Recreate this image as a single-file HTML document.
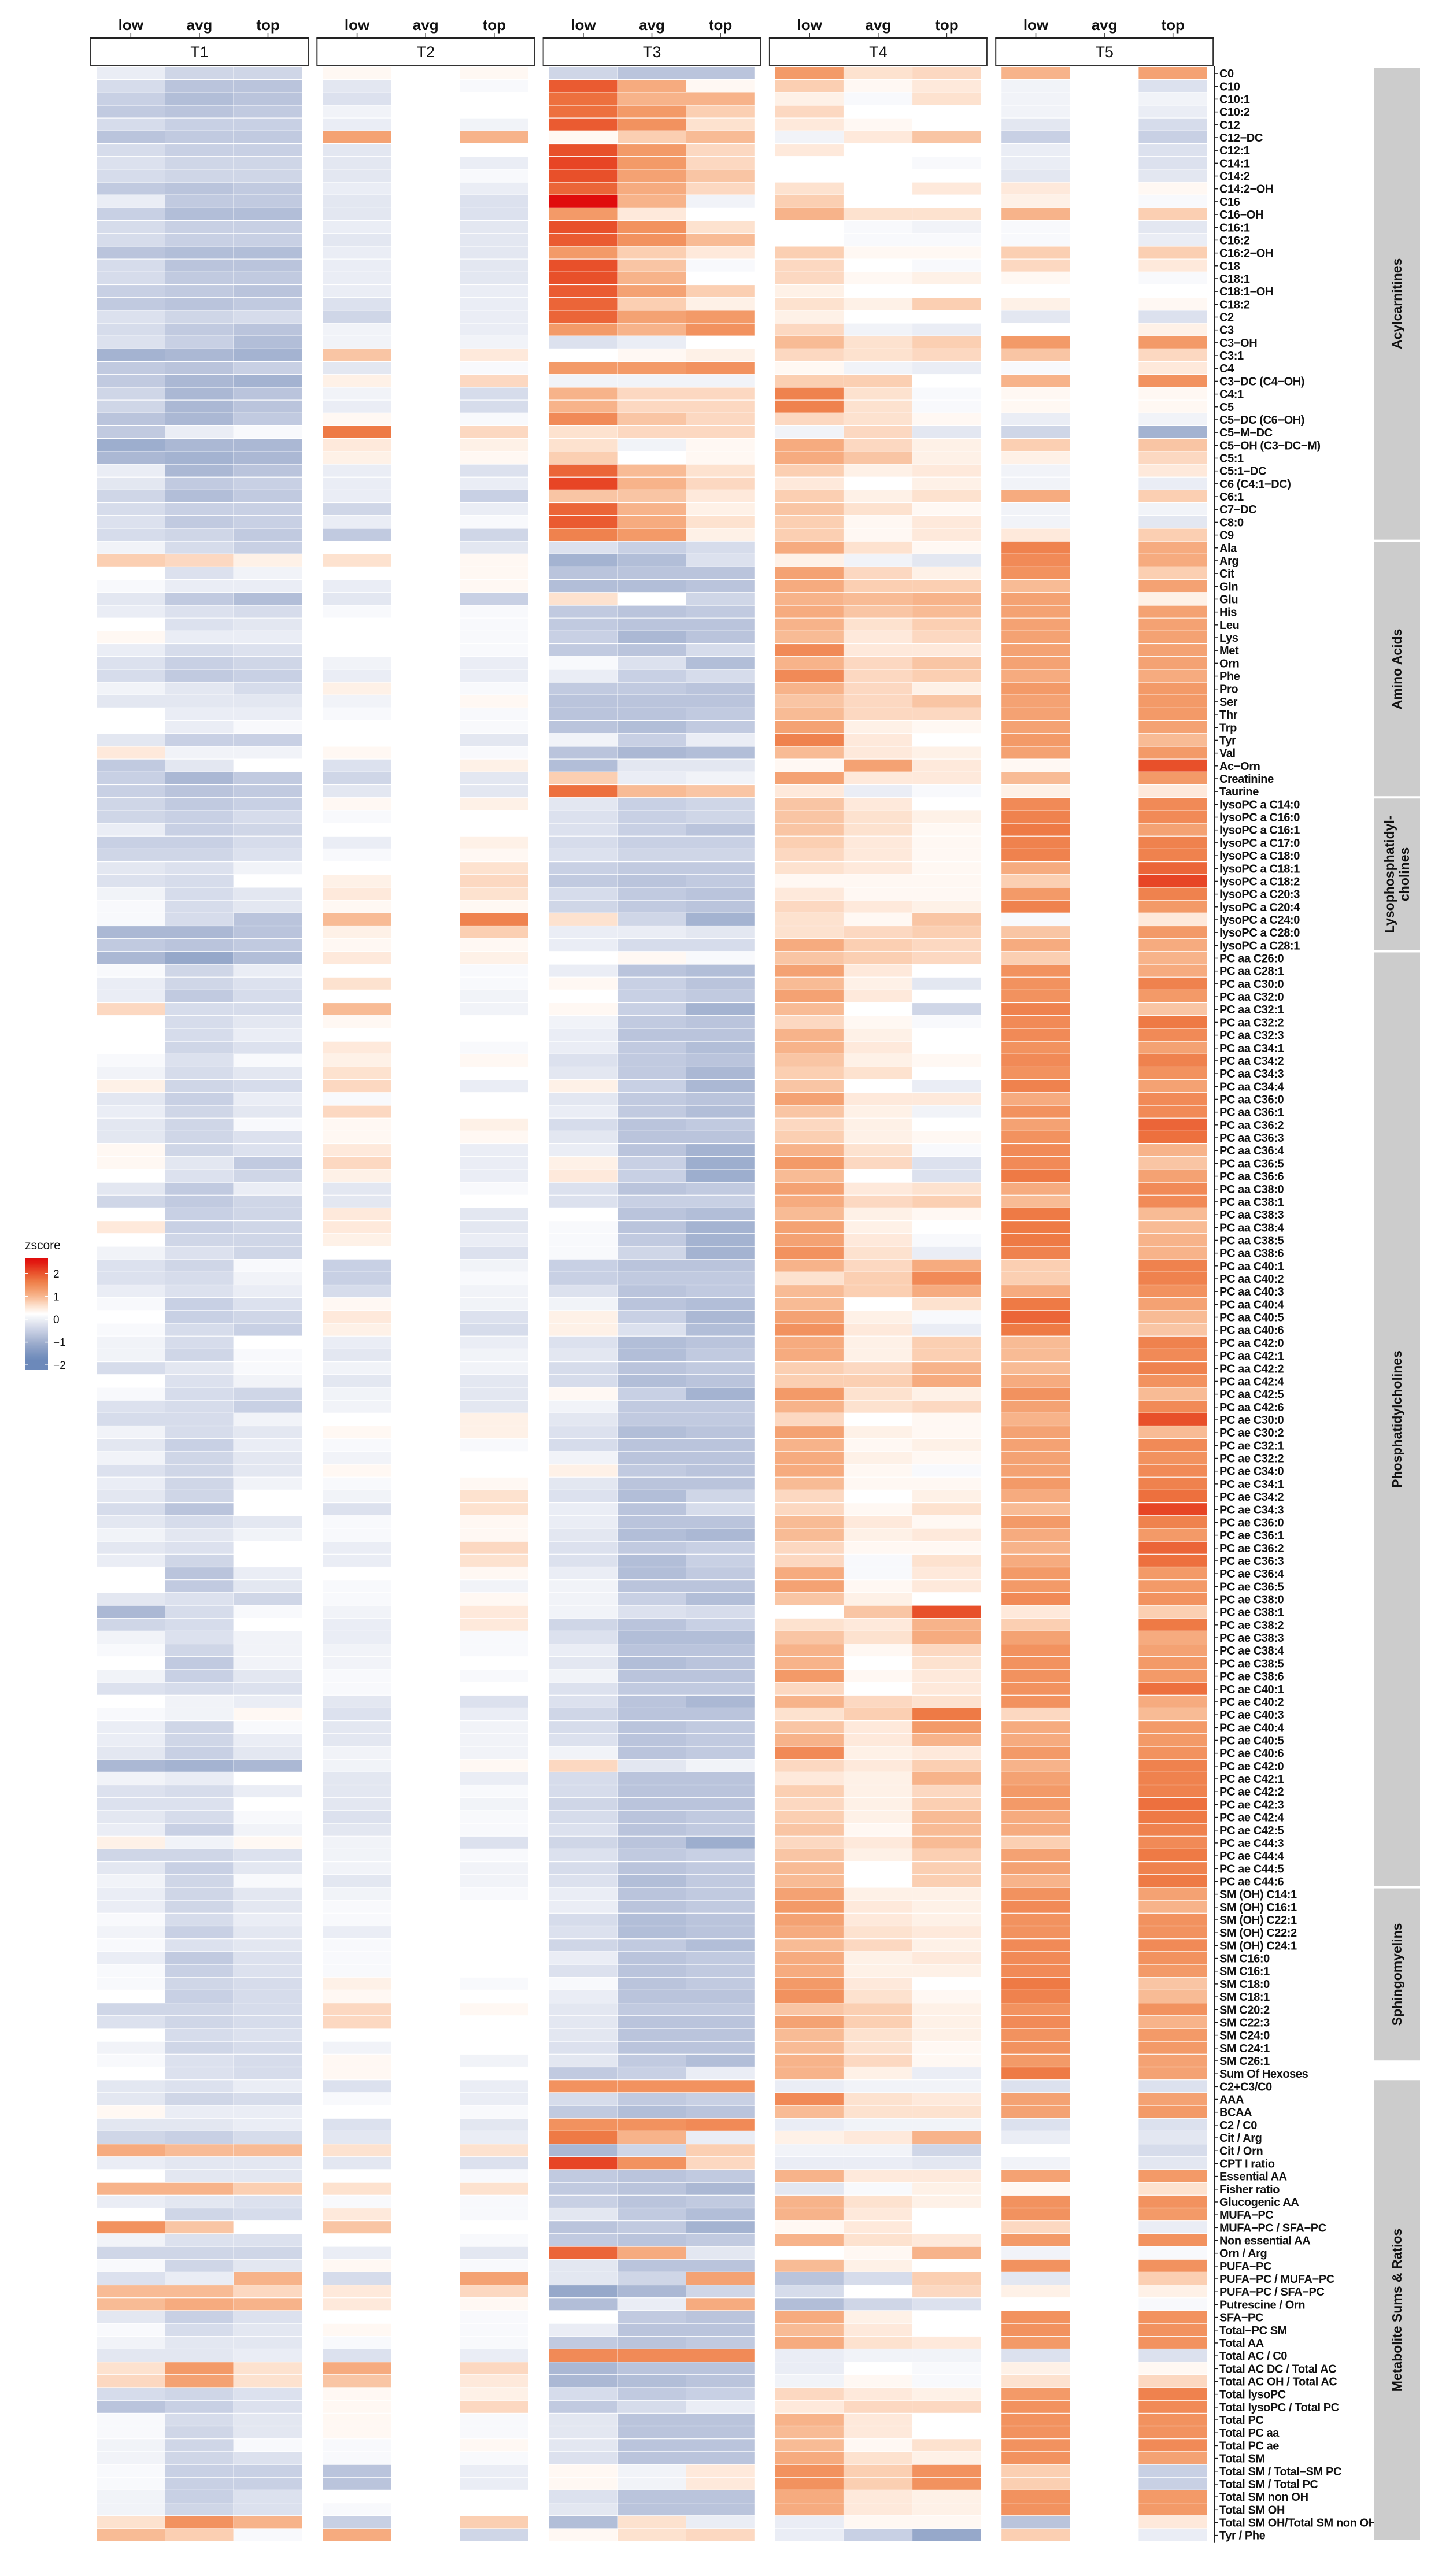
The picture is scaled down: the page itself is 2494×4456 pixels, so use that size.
<!DOCTYPE html>
<html><head><meta charset="utf-8"><title>Metabolite z-score heatmap</title>
<style>
html,body{margin:0;padding:0;background:#fff;}
svg{display:block;font-family:"Liberation Sans",Arial,sans-serif;}
</style></head>
<body>
<svg id="chart" width="2494" height="4456" viewBox="0 0 2494 4456" xmlns="http://www.w3.org/2000/svg"></svg>
<script>
const rowLabels = ["C0","C10","C10:1","C10:2","C12","C12−DC","C12:1","C14:1","C14:2","C14:2−OH","C16","C16−OH","C16:1","C16:2","C16:2−OH","C18","C18:1","C18:1−OH","C18:2","C2","C3","C3−OH","C3:1","C4","C3−DC (C4−OH)","C4:1","C5","C5−DC (C6−OH)","C5−M−DC","C5−OH (C3−DC−M)","C5:1","C5:1−DC","C6 (C4:1−DC)","C6:1","C7−DC","C8:0","C9",
"Ala","Arg","Cit","Gln","Glu","His","Leu","Lys","Met","Orn","Phe","Pro","Ser","Thr","Trp","Tyr","Val","Ac−Orn","Creatinine","Taurine",
"lysoPC a C14:0","lysoPC a C16:0","lysoPC a C16:1","lysoPC a C17:0","lysoPC a C18:0","lysoPC a C18:1","lysoPC a C18:2","lysoPC a C20:3","lysoPC a C20:4","lysoPC a C24:0","lysoPC a C28:0","lysoPC a C28:1",
"PC aa C26:0","PC aa C28:1","PC aa C30:0","PC aa C32:0","PC aa C32:1","PC aa C32:2","PC aa C32:3","PC aa C34:1","PC aa C34:2","PC aa C34:3","PC aa C34:4","PC aa C36:0","PC aa C36:1","PC aa C36:2","PC aa C36:3","PC aa C36:4","PC aa C36:5","PC aa C36:6","PC aa C38:0","PC aa C38:1","PC aa C38:3","PC aa C38:4","PC aa C38:5","PC aa C38:6","PC aa C40:1","PC aa C40:2","PC aa C40:3","PC aa C40:4","PC aa C40:5","PC aa C40:6","PC aa C42:0","PC aa C42:1","PC aa C42:2","PC aa C42:4","PC aa C42:5","PC aa C42:6",
"PC ae C30:0","PC ae C30:2","PC ae C32:1","PC ae C32:2","PC ae C34:0","PC ae C34:1","PC ae C34:2","PC ae C34:3","PC ae C36:0","PC ae C36:1","PC ae C36:2","PC ae C36:3","PC ae C36:4","PC ae C36:5","PC ae C38:0","PC ae C38:1","PC ae C38:2","PC ae C38:3","PC ae C38:4","PC ae C38:5","PC ae C38:6","PC ae C40:1","PC ae C40:2","PC ae C40:3","PC ae C40:4","PC ae C40:5","PC ae C40:6","PC ae C42:0","PC ae C42:1","PC ae C42:2","PC ae C42:3","PC ae C42:4","PC ae C42:5","PC ae C44:3","PC ae C44:4","PC ae C44:5","PC ae C44:6",
"SM (OH) C14:1","SM (OH) C16:1","SM (OH) C22:1","SM (OH) C22:2","SM (OH) C24:1","SM C16:0","SM C16:1","SM C18:0","SM C18:1","SM C20:2","SM C22:3","SM C24:0","SM C24:1","SM C26:1","Sum Of Hexoses",
"C2+C3/C0","AAA","BCAA","C2  / C0","Cit  / Arg","Cit  / Orn","CPT I ratio","Essential AA","Fisher ratio","Glucogenic AA","MUFA−PC","MUFA−PC  / SFA−PC","Non essential AA","Orn  / Arg","PUFA−PC","PUFA−PC  / MUFA−PC","PUFA−PC  / SFA−PC","Putrescine  / Orn","SFA−PC","Total−PC SM","Total AA","Total AC  / C0","Total AC DC  / Total AC","Total AC OH  / Total AC","Total lysoPC","Total lysoPC  / Total PC","Total PC","Total PC aa","Total PC ae","Total SM","Total SM  / Total−SM PC","Total SM  / Total PC","Total SM non OH","Total SM OH","Total SM OH/Total SM non OH","Tyr  / Phe"];

const panelNames = ["T1","T2","T3","T4","T5"];
const colNames = ["low","avg","top"];
const legendTicks = [2,1,0,-1,-2];

const t1Low = [-0.3,-0.6,-0.8,-0.9,-0.6,-1.0,-0.6,-0.5,-0.6,-0.9, -0.3,-0.8,-0.6,-0.6,-1.0,-0.6,-0.6,-0.8,-0.9,-0.5, -0.6,-0.5,-1.3,-0.9,-0.9,-0.7,-0.7,-1.0,-0.9,-1.4, -1.2,-0.3,-0.4,-0.7,-0.6,-0.5,-0.6,-0.2,0.6,0.0, -0.1,-0.4,-0.3,0.0,0.1,-0.3,-0.5,-0.6,-0.2,-0.4, 0.0,0.0,-0.4,0.3,-0.9,-0.8,-0.8,-0.7,-0.7,-0.3, -0.8,-0.7,-0.4,-0.5,-0.2,-0.1,-0.1,-1.2,-0.9,-1.2, -0.1,-0.3,-0.3,0.5,0.0,0.0,0.0,-0.1,-0.2,0.2, -0.4,-0.3,-0.4,-0.4,0.1,0.1,0.0,-0.4,-0.7,0.0, 0.3,0.0,-0.2,-0.5,-0.5,-0.3,-0.1,0.0,-0.1,-0.2, -0.2,-0.6,0.0,-0.1,-0.5,-0.6,-0.2,-0.4,-0.2,-0.5, -0.3,-0.4,-0.6,-0.4,-0.2,-0.4,-0.3,0.0,0.0,-0.4, -1.2,-0.7,-0.2,-0.1,0.0,-0.2,-0.5,0.0,-0.1,-0.3, -0.3,-0.4,-1.2,-0.2,-0.5,-0.5,-0.4,-0.3,0.2,-0.7, -0.4,-0.2,-0.3,-0.3,-0.1,-0.2,-0.1,-0.3,-0.1,-0.1, 0.0,-0.7,-0.5,0.0,-0.2,-0.1,0.0,-0.4,-0.4,0.1, -0.4,-0.7,1.0,-0.3,0.0,0.9,-0.3,0.0,1.3,-0.2, -0.7,-0.1,-0.5,0.8,0.8,-0.4,-0.1,-0.2,-0.4,0.4, 0.5,-0.6,-1.0,-0.1,-0.1,-0.2,-0.2,-0.1,-0.1,-0.2, -0.2,0.4,0.8];
const t1Avg = [-0.7,-1.0,-1.1,-1.0,-0.8,-0.9,-0.8,-0.7,-0.7,-1.0, -0.9,-1.1,-0.8,-0.8,-1.1,-1.0,-0.9,-0.9,-1.0,-0.7, -0.9,-0.8,-1.2,-1.0,-1.2,-1.2,-1.2,-1.2,-0.3,-1.2, -1.3,-1.2,-0.9,-1.1,-0.8,-0.9,-0.7,-0.6,0.5,-0.5, -0.3,-0.9,-0.5,-0.5,-0.3,-0.6,-0.8,-0.9,-0.4,-0.4, -0.3,-0.3,-0.8,-0.2,-0.4,-1.2,-1.0,-0.9,-0.8,-0.8, -0.8,-0.7,-0.5,-0.6,-0.6,-0.6,-0.6,-1.2,-1.0,-1.5, -0.7,-0.7,-0.9,-0.6,-0.6,-0.6,-0.7,-0.5,-0.6,-0.7, -0.8,-0.7,-0.7,-0.7,-0.7,-0.4,-0.5,-0.9,-0.9,-0.8, -0.8,-0.7,-0.5,-0.7,-0.6,-0.5,-0.8,-0.8,-0.6,-0.6, -0.7,-0.4,-0.5,-0.6,-0.6,-0.6,-0.6,-0.8,-0.7,-0.7, -0.7,-0.7,-1.0,-0.6,-0.4,-0.5,-0.7,-1.0,-0.9,-0.5, -0.6,-0.6,-0.5,-0.7,-0.9,-0.8,-0.6,-0.2,-0.2,-0.7, -0.7,-0.8,-1.3,-0.3,-0.6,-0.5,-0.6,-0.8,-0.2,-0.7, -0.8,-0.7,-0.7,-0.7,-0.6,-0.8,-0.5,-0.9,-0.8,-0.7, -0.8,-0.7,-0.7,-0.6,-0.7,-0.5,-0.5,-0.5,-0.7,-0.3, -0.4,-0.8,0.8,-0.4,-0.4,0.9,-0.4,-0.7,0.7,-0.5, -0.7,-0.7,-0.3,0.8,1.0,-0.8,-0.6,-0.4,-0.4,1.2, 1.1,-0.7,-0.8,-0.6,-0.7,-0.7,-0.7,-0.8,-0.8,-0.8, -0.7,1.3,0.6];
const t1Top = [-0.7,-1.0,-1.0,-0.9,-0.8,-0.9,-0.8,-0.7,-0.7,-0.9, -0.9,-1.1,-0.8,-0.8,-1.1,-1.0,-0.9,-1.0,-0.9,-0.6, -1.0,-1.1,-1.3,-0.8,-1.3,-1.0,-1.0,-0.9,-0.1,-1.2, -1.2,-1.0,-0.8,-0.9,-0.8,-0.8,-0.9,-0.8,0.2,-0.2, -0.3,-1.1,-0.6,-0.4,-0.3,-0.5,-0.7,-0.8,-0.6,-0.4, -0.3,-0.1,-0.8,-0.2,0.0,-0.9,-0.9,-0.8,-0.6,-0.7, -0.6,-0.5,-0.2,0.0,-0.4,-0.4,-1.0,-1.0,-0.9,-1.1, -0.3,-0.5,-0.6,-0.6,-0.4,-0.3,-0.5,-0.1,-0.4,-0.6, -0.3,-0.4,-0.1,-0.5,-0.5,-0.9,-0.7,-0.3,-0.7,-0.7, -0.7,-0.7,-0.7,-0.1,-0.2,-0.3,-0.5,-0.7,-0.8,0.0, -0.1,-0.1,-0.2,-0.7,-0.8,-0.2,-0.4,-0.3,-0.4,-0.4, -0.2,0.0,0.0,-0.4,-0.2,0.0,0.0,-0.3,-0.4,-0.7, -0.1,0.0,-0.2,-0.2,-0.2,-0.4,-0.5,-0.3,0.1,-0.1, -0.3,-0.4,-1.2,0.0,-0.3,0.0,-0.1,-0.2,0.1,-0.5, -0.4,-0.1,-0.4,-0.4,-0.3,-0.4,-0.4,-0.5,-0.5,-0.6, -0.6,-0.6,-0.6,-0.5,-0.6,-0.6,-0.6,-0.3,-0.6,-0.3, -0.3,-0.6,0.8,-0.4,-0.4,0.6,-0.5,-0.6,0.0,-0.5, -0.7,-0.4,0.9,0.5,0.9,-0.5,-0.4,-0.4,-0.3,0.4, 0.4,-0.5,-0.5,-0.4,-0.4,-0.1,-0.5,-0.8,-0.8,-0.5, -0.5,0.9,-0.1];
const t2Low = [0.1,-0.4,-0.5,-0.2,-0.3,1.1,-0.4,-0.4,-0.4,-0.3, -0.4,-0.4,-0.3,-0.4,-0.3,-0.3,-0.3,-0.3,-0.5,-0.7, -0.2,-0.2,0.7,-0.4,0.2,-0.2,-0.3,0.1,1.6,0.3, 0.2,-0.3,-0.3,-0.3,-0.7,-0.3,-0.9,0.0,0.4,0.0, -0.3,-0.4,-0.1,0.0,0.0,0.0,-0.2,-0.3,0.2,-0.2, -0.1,0.0,0.0,0.1,-0.5,-0.7,-0.4,0.1,-0.1,0.0, -0.3,-0.1,0.0,0.2,0.3,0.1,0.8,0.2,0.1,0.3, 0.0,0.4,0.0,0.8,0.1,0.0,0.3,0.2,0.4,0.5, -0.1,0.5,0.1,0.1,0.3,0.5,0.2,-0.4,-0.4,0.3, 0.3,0.2,0.0,-0.8,-0.8,-0.6,0.1,0.3,0.2,-0.3, -0.4,-0.2,-0.4,-0.2,-0.2,0.0,0.1,-0.1,-0.2,0.1, -0.1,-0.2,-0.5,-0.1,-0.1,-0.3,-0.3,0.0,-0.1,-0.1, -0.2,-0.3,-0.3,-0.2,-0.2,-0.1,-0.1,-0.4,-0.5,-0.4, -0.4,-0.2,-0.2,-0.4,-0.4,-0.4,-0.5,-0.4,-0.2,-0.2, -0.2,-0.4,-0.2,-0.1,-0.1,-0.3,-0.1,-0.1,-0.1,0.2, 0.1,0.5,0.5,0.0,-0.2,0.1,0.1,-0.5,-0.1,0.0, -0.5,-0.4,0.4,-0.4,0.0,0.4,-0.1,0.3,0.7,0.0, -0.3,0.1,-0.6,0.3,0.3,0.0,0.1,-0.1,-0.5,1.0, 0.7,0.1,0.1,0.1,0.1,-0.1,-0.1,-1.0,-1.0,0.0, -0.1,-0.8,1.0];
const t2Top = [0.1,-0.1,0.0,0.0,-0.2,0.9,0.0,-0.3,-0.1,-0.3, -0.5,-0.5,-0.4,-0.4,-0.4,-0.4,-0.4,-0.3,-0.3,-0.3, -0.3,-0.2,0.3,-0.1,0.5,-0.6,-0.6,-0.1,0.5,0.2, 0.1,-0.5,-0.3,-0.8,-0.3,-0.1,-0.7,-0.4,0.1,0.1, 0.1,-0.8,-0.1,-0.1,-0.1,-0.1,-0.3,-0.3,-0.1,0.1, -0.1,-0.1,-0.4,-0.1,0.2,-0.4,-0.4,0.2,0.0,0.0, 0.2,0.1,0.4,0.5,0.4,0.1,1.5,0.6,0.1,0.2, -0.1,-0.1,-0.2,-0.2,0.0,0.0,-0.1,0.1,0.0,-0.3, 0.0,0.0,0.2,0.1,-0.3,-0.3,-0.3,-0.1,0.0,-0.4, -0.4,-0.3,-0.5,-0.2,-0.1,-0.2,-0.2,-0.5,-0.6,-0.3, -0.2,-0.2,-0.4,-0.4,-0.4,0.2,0.2,-0.1,0.0,0.0, 0.1,0.4,0.4,0.1,0.1,0.5,0.4,0.1,-0.2,0.1, 0.3,0.3,-0.1,-0.1,0.0,-0.1,0.0,-0.5,-0.3,-0.2, -0.2,-0.2,0.1,-0.3,-0.1,-0.2,-0.1,-0.1,-0.5,-0.1, -0.2,-0.2,-0.1,0.0,0.0,0.0,0.0,0.0,0.0,-0.1, 0.0,0.1,0.0,0.0,0.0,-0.2,0.0,-0.3,-0.3,-0.1, -0.4,-0.3,0.4,-0.5,-0.1,0.4,-0.1,-0.1,0.0,-0.1, -0.4,-0.1,1.1,0.5,0.1,-0.1,-0.1,-0.1,-0.3,0.5, 0.3,0.2,0.5,-0.1,-0.1,0.1,-0.1,-0.3,-0.3,0.0, 0.0,0.6,-0.7];
const t3Low = [-0.7,1.9,1.7,1.7,1.9,0.1,2.0,2.1,2.0,1.8, 2.6,1.2,2.0,1.9,1.2,2.0,2.0,1.9,1.8,1.8, 1.2,-0.5,0.0,1.2,-0.2,0.9,0.9,1.4,0.4,0.4, 0.6,1.8,2.1,0.7,1.8,1.9,1.5,-0.5,-1.3,-1.0, -1.1,0.4,-0.9,-0.9,-0.8,-0.9,-0.1,-0.3,-0.9,-1.0, -1.0,-1.0,-0.2,-1.0,-1.1,0.6,1.7,-0.4,-0.5,-0.5, -0.6,-0.5,-0.8,-0.9,-0.6,-0.7,0.4,-0.3,-0.3,0.0, -0.3,0.1,0.0,0.1,-0.2,-0.3,-0.3,-0.5,-0.4,0.2, -0.4,-0.3,-0.6,-0.4,-0.3,0.2,0.3,-0.5,-0.5,0.0, -0.1,-0.1,-0.1,-0.8,-0.8,-0.5,-0.2,0.2,0.2,-0.5, -0.4,-0.6,-0.6,0.1,-0.2,-0.4,-0.5,-0.6,-0.2,0.2, -0.4,-0.5,-0.3,-0.3,-0.4,-0.5,-0.5,-0.3,-0.2,-0.2, -0.2,-0.7,-0.5,-0.3,-0.4,-0.2,-0.5,-0.5,-0.7,-0.6, -0.5,-0.2,0.5,-0.6,-0.6,-0.7,-0.6,-0.5,-0.7,-0.5, -0.6,-0.5,-0.3,-0.3,-0.6,-0.5,-0.7,-0.3,-0.5,-0.1, -0.3,-0.4,-0.4,-0.4,-0.5,-0.4,-0.9,1.3,-0.6,-0.9, 1.3,1.6,-1.2,2.1,-0.9,-0.9,-0.8,-0.4,-1.0,-0.9, 1.8,-0.4,-0.4,-1.5,-1.1,0.0,-0.3,-0.9,1.4,-1.2, -1.2,-0.6,-0.9,-0.4,-0.4,-0.4,-0.5,0.1,0.1,-0.5, -0.4,-1.1,0.1];
const t3Avg = [-1.0,1.0,0.9,1.2,1.3,0.6,1.2,1.2,1.1,1.0, 0.9,0.3,1.3,1.3,0.6,0.7,0.9,1.1,0.6,1.1, 0.9,-0.3,0.1,1.2,-0.2,0.5,0.5,0.7,0.5,-0.2, 0.0,0.8,0.9,0.7,0.9,1.0,1.2,-0.8,-1.1,-1.0, -1.1,0.0,-1.0,-1.0,-1.2,-1.0,-0.5,-0.8,-0.9,-1.0, -1.0,-1.1,-0.8,-1.2,-0.4,-0.3,0.8,-0.8,-0.8,-0.8, -0.8,-0.7,-0.9,-1.0,-0.9,-0.9,-0.7,-0.3,-0.6,0.1, -1.0,-0.8,-0.8,-0.8,-0.9,-1.0,-0.9,-0.9,-0.9,-0.8, -0.9,-0.9,-1.0,-1.0,-1.0,-0.8,-0.8,-1.0,-0.8,-1.0, -1.0,-0.9,-0.7,-1.0,-0.9,-1.0,-1.0,-0.8,-0.5,-1.1, -1.1,-1.0,-1.1,-0.8,-0.9,-0.9,-1.1,-1.0,-1.0,-0.9, -1.0,-1.1,-1.0,-1.0,-1.1,-0.9,-1.1,-1.1,-1.0,-0.8, -0.5,-1.0,-1.1,-1.0,-1.1,-1.0,-0.9,-1.0,-1.0,-1.0, -1.0,-1.0,-0.4,-1.0,-1.0,-1.0,-1.0,-1.0,-1.0,-0.9, -1.0,-1.1,-1.0,-1.0,-1.1,-1.1,-0.9,-1.0,-1.0,-1.0, -1.0,-0.9,-1.0,-1.0,-1.0,-0.9,-0.8,1.3,-0.9,-1.1, 1.3,0.9,-0.7,1.3,-1.0,-1.0,-1.0,-0.9,-0.9,-1.0, 1.0,-1.0,-0.7,-1.2,-0.3,-0.9,-1.0,-1.0,1.4,-1.0, -1.1,-0.9,-0.6,-1.0,-1.0,-1.0,-1.0,-0.2,-0.2,-1.0, -1.0,0.4,0.4];
const t3Top = [-1.0,0.1,0.9,0.6,0.4,0.8,0.5,0.5,0.7,0.5, -0.2,0.0,0.4,0.8,0.3,-0.1,0.0,0.6,0.2,1.2, 1.3,0.0,0.2,1.3,-0.2,0.5,0.5,0.5,0.5,0.1, 0.1,0.4,0.5,0.3,0.2,0.4,0.2,-0.6,-0.5,-1.0, -1.0,-0.7,-0.9,-1.0,-1.0,-0.6,-1.1,-0.6,-1.0,-1.0, -0.9,-0.9,-0.3,-1.1,-0.4,-0.2,0.7,-0.7,-0.7,-1.0, -0.8,-0.7,-0.9,-0.9,-1.0,-1.0,-1.3,-0.4,-0.6,-0.1, -1.1,-1.0,-0.9,-1.3,-1.0,-1.0,-1.1,-1.0,-1.2,-1.2, -1.0,-1.1,-0.9,-1.0,-1.3,-1.4,-1.4,-0.9,-0.8,-1.1, -1.3,-1.3,-1.3,-1.0,-0.9,-0.9,-1.1,-1.2,-1.1,-1.0, -0.9,-0.9,-1.0,-1.3,-0.9,-0.9,-1.0,-1.0,-1.0,-1.0, -1.0,-0.7,-0.6,-1.0,-1.2,-0.8,-0.8,-0.9,-1.0,-1.1, -0.6,-0.8,-1.1,-1.0,-1.0,-1.0,-0.9,-1.2,-1.0,-0.9, -0.9,-0.9,-0.2,-1.0,-1.0,-1.0,-0.9,-0.9,-1.4,-0.8, -0.9,-0.9,-0.9,-0.9,-1.0,-1.0,-1.1,-0.9,-0.9,-0.9, -1.0,-0.9,-1.0,-1.0,-1.0,-1.1,-0.3,1.3,-0.8,-1.0, 1.4,-0.3,0.6,0.5,-0.9,-1.2,-0.9,-1.1,-1.3,-0.9, -0.4,-1.0,1.1,-0.7,1.0,-1.0,-1.0,-0.9,1.4,-1.0, -1.0,-0.8,-0.3,-1.0,-1.0,-1.0,-1.0,0.3,0.3,-1.0, -1.0,-0.3,0.5];
const t4Low = [1.2,0.6,0.2,0.5,0.3,-0.2,0.3,0.0,0.0,0.4, 0.6,0.9,0.0,0.0,0.6,0.5,0.5,0.2,0.4,0.2, 0.5,0.8,0.5,0.1,0.6,1.5,1.5,0.5,-0.2,1.0, 1.0,0.6,0.3,0.6,0.7,0.6,0.6,1.0,0.2,1.1, 1.0,0.9,1.0,0.9,0.8,1.4,0.9,1.4,0.9,0.7, 0.8,1.1,1.5,0.8,0.1,1.1,0.3,0.7,0.7,0.7, 0.6,0.5,0.4,0.1,0.3,0.5,0.4,0.4,1.0,0.7, 1.1,0.8,1.1,0.8,0.5,0.9,0.9,0.7,0.6,0.7, 1.1,0.7,0.5,0.6,0.9,1.2,0.8,1.1,1.0,0.8, 1.1,1.1,1.3,0.9,0.4,0.8,0.8,1.1,1.3,1.0, 1.0,0.6,0.6,1.2,0.9,0.5,1.1,0.9,1.0,1.0, 0.8,0.5,0.5,0.8,0.8,0.5,0.5,1.0,1.1,0.7, 0.0,0.4,0.7,0.9,0.9,1.2,0.5,0.9,0.4,0.7, 0.9,1.4,0.5,0.3,0.6,0.5,0.6,0.7,0.5,0.7, 0.8,0.8,1.1,1.2,1.1,1.0,0.8,1.0,1.0,1.2, 1.3,0.7,1.1,0.8,0.8,0.9,0.9,-0.3,1.4,0.8, -0.3,0.2,-0.2,-0.3,0.9,-0.4,0.9,0.9,0.1,0.9, 0.0,0.8,-1.0,-0.6,-1.1,1.0,0.8,1.0,-0.3,-0.3, -0.2,0.5,0.3,0.9,0.8,0.8,1.0,1.3,1.3,1.0, 1.0,-0.3,-0.3];
const t4Avg = [0.4,0.1,-0.1,0.0,0.1,0.3,0.0,0.0,0.0,0.0, 0.0,0.4,-0.1,-0.1,0.1,0.0,0.1,0.0,0.2,0.0, -0.2,0.4,0.4,-0.2,0.6,0.4,0.4,0.4,0.5,0.5, 0.7,0.2,0.0,0.2,0.4,0.1,0.1,0.4,-0.2,0.5, 0.6,0.8,0.7,0.4,0.3,0.3,0.5,0.5,0.5,0.5, 0.5,0.2,0.3,0.3,1.1,0.3,-0.3,0.3,0.4,0.4, 0.3,0.3,0.3,0.1,0.1,0.3,0.1,0.5,0.6,0.6, 0.3,0.2,0.3,0.0,0.1,0.2,0.3,0.2,0.4,0.0, 0.3,0.2,0.2,0.2,0.4,0.5,0.0,0.3,0.5,0.2, 0.2,0.3,0.4,0.5,0.6,0.6,0.0,0.2,0.3,0.2, 0.2,0.5,0.6,0.4,0.4,0.0,0.2,0.1,0.2,0.1, 0.1,0.0,0.1,0.3,0.2,0.1,-0.1,-0.1,0.1,0.2, 0.7,0.3,0.4,0.1,0.0,0.1,0.0,0.5,0.6,0.3, 0.3,0.2,0.3,0.2,0.2,0.2,0.2,0.1,0.3,0.2, 0.0,0.0,0.2,0.3,0.3,0.4,0.5,0.2,0.2,0.3, 0.4,0.6,0.6,0.4,0.4,0.5,0.2,-0.2,0.4,0.4, -0.2,0.3,-0.2,-0.3,0.3,-0.1,0.4,0.3,0.3,0.4, 0.1,0.2,-0.6,0.0,-0.7,0.2,0.3,0.4,-0.2,0.0, 0.1,0.3,0.5,0.3,0.3,0.1,0.4,0.6,0.6,0.3, 0.3,0.1,-0.8];
const t4Top = [0.5,0.3,0.4,0.0,0.0,0.7,0.0,-0.1,0.0,0.3, 0.0,0.4,-0.2,-0.1,0.1,-0.1,0.2,0.0,0.6,0.0, -0.3,0.6,0.5,-0.3,0.0,-0.1,-0.1,0.1,-0.4,0.2, 0.2,0.3,0.2,0.4,0.1,0.3,0.3,0.1,-0.4,0.2, 0.6,0.9,0.8,0.6,0.5,0.3,0.7,0.6,0.2,0.7, 0.5,0.1,0.0,0.2,0.3,0.3,-0.1,0.0,0.2,0.1, 0.1,0.1,0.1,0.1,0.1,0.2,0.7,0.6,0.5,0.5, 0.0,-0.4,0.0,-0.7,-0.1,0.0,0.0,0.1,0.0,-0.3, 0.3,-0.2,0.0,0.1,-0.1,-0.5,-0.5,0.4,0.6,0.1, 0.0,-0.1,-0.3,1.0,1.4,1.0,0.4,-0.1,-0.3,0.6, 0.6,0.9,1.0,0.2,0.5,0.1,0.1,0.2,0.1,-0.1, 0.1,0.2,0.4,0.1,0.3,0.1,0.4,0.3,0.3,0.0, 2.0,0.9,1.0,0.5,0.4,0.3,0.3,0.4,1.6,1.2, 0.9,0.3,0.6,0.9,0.5,0.6,0.8,0.8,0.8,0.6, 0.6,0.6,0.2,0.2,0.2,0.3,0.2,0.3,0.2,0.0, 0.1,0.2,0.2,0.2,0.1,0.1,-0.3,-0.2,0.3,0.4, -0.2,0.9,-0.7,-0.4,0.3,0.2,0.2,0.0,0.0,0.3, 0.9,0.0,0.6,0.5,-0.5,0.0,0.0,0.3,-0.2,-0.1, -0.1,0.2,0.5,0.0,0.0,0.4,0.2,1.3,1.3,0.2, 0.2,0.1,-1.5];
const t5Low = [0.9,-0.2,-0.2,-0.2,-0.4,-0.8,-0.3,-0.3,-0.4,0.3, 0.2,0.9,-0.1,-0.1,0.6,0.5,0.1,0.0,0.2,-0.4, 0.0,1.2,0.7,-0.1,0.9,0.1,0.1,-0.3,-0.7,0.6, 0.2,-0.2,-0.2,1.0,-0.2,-0.2,0.3,1.5,1.4,1.3, 0.8,1.1,1.1,1.1,1.1,1.1,1.1,1.0,1.2,1.1, 1.1,1.1,1.2,1.1,0.1,0.8,0.2,1.4,1.5,1.6, 1.5,1.5,1.0,0.6,1.2,1.5,-0.1,0.7,1.0,0.6, 1.3,1.3,1.3,1.5,1.4,1.4,1.3,1.4,1.3,1.5, 1.0,1.3,1.1,1.3,1.4,1.4,1.6,1.0,0.8,1.6, 1.6,1.6,1.5,0.6,0.6,1.0,1.6,1.8,1.6,0.8, 0.8,0.8,1.0,1.3,1.1,0.9,1.1,1.1,1.1,1.1, 1.2,1.0,0.8,1.2,1.0,0.9,1.0,1.2,1.2,1.4, 0.3,0.6,1.1,1.3,1.3,1.3,1.3,1.3,0.5,1.0, 1.0,1.2,0.9,1.1,1.2,1.2,1.0,1.0,0.6,1.1, 1.1,0.9,1.3,1.4,1.3,1.3,1.4,1.4,1.4,1.6, 1.5,1.3,1.4,1.3,1.3,1.2,1.6,-0.5,1.1,1.1, -0.5,-0.3,0.0,-0.2,1.1,0.1,1.3,1.3,0.5,1.2, -0.2,1.3,-0.4,0.2,0.0,1.3,1.3,1.2,-0.5,0.2, 0.4,1.2,1.3,1.3,1.3,1.3,1.3,0.6,0.6,1.3, 1.3,-1.0,0.6];
const t5Top = [1.1,-0.5,-0.2,-0.3,-0.6,-0.8,-0.5,-0.5,-0.4,0.1, -0.1,0.6,-0.4,-0.3,0.6,0.3,-0.1,0.0,0.1,-0.5, 0.2,1.2,0.5,0.3,1.3,0.1,0.1,-0.2,-1.3,0.7, 0.5,0.3,-0.3,0.6,-0.2,-0.4,0.6,1.0,1.0,0.6, 1.1,0.2,1.1,1.1,1.1,1.1,1.1,1.0,1.2,1.2, 1.2,1.1,0.8,1.2,2.0,1.2,0.3,1.4,1.4,1.1, 1.5,1.5,1.8,2.1,1.5,1.2,0.3,1.2,1.0,0.9, 1.0,1.5,1.2,0.7,1.6,1.4,1.1,1.5,1.3,1.1, 1.4,1.4,1.8,1.7,0.9,0.7,1.1,1.4,1.4,0.8, 0.8,0.9,0.9,1.5,1.5,1.3,1.1,0.8,0.7,1.5, 1.4,1.5,1.3,0.8,1.4,2.0,0.8,1.4,1.3,1.4, 1.5,1.7,2.1,1.5,1.2,1.8,1.7,1.2,1.2,1.3, 0.6,1.6,1.0,1.1,1.2,1.2,1.7,1.0,0.8,1.2, 1.2,1.3,1.5,1.5,1.5,1.7,1.6,1.5,1.4,1.6, 1.5,1.6,1.1,0.9,1.3,1.3,1.4,1.3,1.2,0.7, 0.8,1.3,0.9,1.2,1.2,1.1,1.1,-0.5,1.1,1.2, -0.5,-0.4,-0.6,-0.4,1.2,0.4,1.3,1.2,-0.3,1.3, -0.1,1.3,0.6,0.2,-0.1,1.3,1.3,1.3,-0.5,0.1, 0.5,1.5,1.4,1.3,1.3,1.4,1.1,-0.8,-0.8,1.2, 1.2,0.3,-0.3];

const sectionNames = ["Acylcarnitines","Amino Acids","Lysophosphatidyl-|cholines","Phosphatidylcholines","Sphingomyelins","Metabolite Sums & Ratios"];
const sectionStart = [0,37,57,69,142,157];
const sectionEnd = [37,57,69,142,155.6,193];

const panelCols = [[t1Low,t1Avg,t1Top],[t2Low,null,t2Top],[t3Low,t3Avg,t3Top],[t4Low,t4Avg,t4Top],[t5Low,null,t5Top]];

// ---- geometry / scales ----
const TOP = 116, PITCH = 22.18, PANEL_X0 = 167, PANEL_STEP = 391.3, COL_W = 118.6;
function yRow(i){ return TOP + i*PITCH; }
function xCol(p,c){ return PANEL_X0 + p*PANEL_STEP + c*COL_W; }

const stopsPos = [[0,[255,255,255]],[0.4,[253,226,207]],[0.8,[248,187,149]],[1.2,[243,154,104]],[1.6,[238,122,69]],[2.0,[232,80,42]],[2.6,[224,12,12]]];
const stopsNeg = [[0,[255,255,255]],[0.4,[227,231,241]],[0.8,[200,208,228]],[1.2,[171,184,212]],[1.6,[143,163,199]],[2.2,[108,137,186]]];
function colorFor(v){
  const st = v>=0 ? stopsPos : stopsNeg; const a = Math.abs(v);
  for(let k=1;k<st.length;k++){
    if(a<=st[k][0]){const t=(a-st[k-1][0])/(st[k][0]-st[k-1][0]);
      const c=st[k-1][1].map((x,j)=>Math.round(x+(st[k][1][j]-x)*t));return `rgb(${c[0]},${c[1]},${c[2]})`;}
  }
  const c=st[st.length-1][1];return `rgb(${c[0]},${c[1]},${c[2]})`;
}

const NS="http://www.w3.org/2000/svg";
const svg=document.getElementById('chart');
function mk(tag,attrs,parent){const e=document.createElementNS(NS,tag);for(const k in attrs)e.setAttribute(k,attrs[k]);(parent||svg).appendChild(e);return e;}

// heatmap cells
const gCells=mk('g',{});


panelCols.forEach((cols,p)=>{
  cols.forEach((arr,c)=>{
    if(!arr) return;
    arr.forEach((v,i)=>{
      const r=mk('rect',{x:xCol(p,c).toFixed(1),y:yRow(i).toFixed(1),width:(COL_W-0.6).toFixed(1),height:(PITCH-1.2).toFixed(1),fill:colorFor(v)},gCells);
      
      
    });
  });
});

// panel headers
panelNames.forEach((name,p)=>{
  const bx=xCol(p,0)-10;
  const box=mk('rect',{x:bx,y:66,width:376,height:47,fill:'#fff',stroke:'#333','stroke-width':2});
  
  
  mk('line',{x1:bx-1,y1:66,x2:bx+377,y2:66,stroke:'#222','stroke-width':4});
  const t=mk('text',{x:bx+188,y:99,'text-anchor':'middle','font-size':27,fill:'#111'});
  t.textContent=name;
  
  
  colNames.forEach((cn,c)=>{
    const cx=xCol(p,c)+COL_W/2;
    const lt=mk('text',{x:cx,y:52,'text-anchor':'middle','font-size':26,'font-weight':'bold',fill:'#111'});
    lt.textContent=cn;
    
    
    mk('line',{x1:cx,y1:57,x2:cx,y2:64,stroke:'#333','stroke-width':1.5});
  });
});

// y axis
const axis=mk('line',{x1:2100,y1:TOP-2,x2:2100,y2:yRow(193)+2,stroke:'#222','stroke-width':2});


rowLabels.forEach((lab,i)=>{
  const cy=yRow(i)+PITCH/2;
  mk('line',{x1:2100,y1:cy,x2:2106,y2:cy,stroke:'#222','stroke-width':1.5});
  const t=mk('text',{x:2109,y:cy+7,'font-size':20,'font-weight':'bold',fill:'#111','letter-spacing':'-0.4'});
  t.textContent=lab;
  
  
});

// section strips
sectionNames.forEach((name,k)=>{
  let y0=yRow(sectionStart[k])+(k===5?0:1), y1=yRow(sectionEnd[k])-3;
  const r=mk('rect',{x:2376,y:y0,width:80,height:y1-y0,fill:'#cccccc'});
  
  
  const cy=(y0+y1)/2;
  const parts=name.split('|');
  parts.forEach((pt,j)=>{
    const off=(j-(parts.length-1)/2)*26;
    const t=mk('text',{x:0,y:0,'font-size':23,'font-weight':'bold',fill:'#111','text-anchor':'middle',transform:`translate(${2416+off+8},${cy}) rotate(-90)`});
    t.textContent=pt;
    
    
  });
});

// legend
const lg=mk('g',{});


const lt=mk('text',{x:43,y:2161,'font-size':21,fill:'#111'},lg);
lt.textContent='zscore';


const defs=mk('defs',{});
const grad=mk('linearGradient',{id:'lgrad',x1:0,y1:0,x2:0,y2:1},defs);
for(let s=0;s<=24;s++){const z=2.45-s*(4.9/24);mk('stop',{offset:(s/24).toFixed(3),'stop-color':colorFor(z*1.1)},grad);}
const bar=mk('rect',{x:43,y:2176,width:40,height:194,fill:'url(#lgrad)'},lg);


legendTicks.forEach(z=>{
  const y=2282-z*39.6;
  mk('line',{x1:43,y1:y,x2:49,y2:y,stroke:'#fff','stroke-width':1.5},lg);
  mk('line',{x1:77,y1:y,x2:83,y2:y,stroke:'#fff','stroke-width':1.5},lg);
  const t=mk('text',{x:92,y:y+7,'font-size':19,fill:'#111'},lg);
  t.textContent=z<0?('−'+Math.abs(z)):String(z);
  
  
});
</script>
</body></html>
